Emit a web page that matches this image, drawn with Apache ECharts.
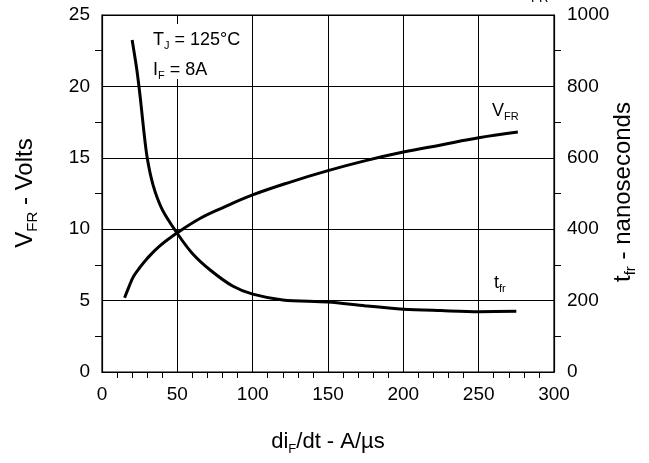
<!DOCTYPE html>
<html>
<head>
<meta charset="utf-8">
<script src="https://cdn.jsdelivr.net/npm/echarts@6/dist/echarts.min.js"></script>
<style>
  html, body { margin: 0; padding: 0; background: #fff; }
  #chart { width: 649px; height: 463px; }
</style>
</head>
<body>
<div id="chart"></div>
<script>
// V_FR curve (left axis, volts)
var vfrX = [15, 18, 21, 25, 30, 38, 50, 65, 80, 100, 125, 150, 175, 200, 225, 250, 276];
var vfrY = [5.2, 6.0, 6.7, 7.3, 7.95, 8.8, 9.75, 10.75, 11.5, 12.4, 13.3, 14.1, 14.8, 15.4, 15.9, 16.4, 16.8];
// t_fr curve (right axis, ns)
var tfrX = [20, 23, 25.5, 27.5, 30, 34, 40, 50, 60, 72, 87, 100, 120, 150, 175, 200, 225, 250, 275];
var tfrY = [930, 850, 765, 685, 600, 522, 455, 388, 332, 285, 240, 218, 202, 196, 185, 176, 172, 169, 170];
var xTicks = [0, 50, 100, 150, 200, 250, 300];

var FONT = "Liberation Sans";
var myChart = echarts.init(document.getElementById("chart"));

function pairs(xs, ys) {
  return xs.map(function (x, i) { return [x, ys[i]]; });
}

var subRich = {
  a: { fontFamily: FONT, fontSize: 22, color: "#000", lineHeight: 28 },
  s: { fontFamily: FONT, fontSize: 13, color: "#000", lineHeight: 12, verticalAlign: "bottom" }
};
var sideRich = {
  a: { fontFamily: FONT, fontSize: 24, color: "#000", lineHeight: 30 },
  s: { fontFamily: FONT, fontSize: 15, color: "#000", lineHeight: 13, verticalAlign: "bottom" }
};
var noteRich = {
  a: { fontFamily: FONT, fontSize: 18, color: "#000", lineHeight: 22 },
  s: { fontFamily: FONT, fontSize: 11, color: "#000", lineHeight: 10, verticalAlign: "bottom" }
};

var option = {
  animation: false,
  grid: {
    left: 102, right: 95, top: 15, bottom: 91,
    show: true, borderColor: "#000", borderWidth: 1.2
  },
  xAxis: {
    type: "value",
    min: 0, max: 300, interval: 50,
    axisLine: { show: true, lineStyle: { color: "#000", width: 1.2 } },
    axisTick: { show: false },
    minorTick: { show: true, splitNumber: 5, length: 6, lineStyle: { color: "#000", width: 1 } },
    axisLabel: {
      margin: 13, fontFamily: FONT, fontSize: 19, color: "#000",
      formatter: function (v) { return xTicks.indexOf(v) >= 0 ? String(v) : ""; }
    },
    splitLine: { show: true, lineStyle: { color: "#000", width: 1 } }
  },
  yAxis: [
    {
      type: "value",
      min: 0, max: 25, interval: 5,
      axisLine: { show: true, lineStyle: { color: "#000", width: 1.2 } },
      axisTick: { show: false },
      minorTick: { show: true, splitNumber: 2, length: 7, lineStyle: { color: "#000", width: 1 } },
      axisLabel: { margin: 12, fontFamily: FONT, fontSize: 19, color: "#000" },
      splitLine: { show: true, lineStyle: { color: "#000", width: 1 } }
    },
    {
      type: "value",
      min: 0, max: 1000, interval: 200,
      position: "right",
      axisLine: { show: true, lineStyle: { color: "#000", width: 1.2 } },
      axisTick: { show: false },
      minorTick: { show: true, splitNumber: 2, length: 7, lineStyle: { color: "#000", width: 1 } },
      axisLabel: {
        margin: 13, fontFamily: FONT, fontSize: 19, color: "#000",
        formatter: function (v) { return String(v); }
      },
      splitLine: { show: false }
    }
  ],
  series: [
    {
      name: "VFR",
      type: "line",
      yAxisIndex: 0,
      data: pairs(vfrX, vfrY),
      smooth: 0.4,
      symbol: "none",
      lineStyle: { color: "#000", width: 3 }
    },
    {
      name: "tfr",
      type: "line",
      yAxisIndex: 1,
      data: pairs(tfrX, tfrY),
      smooth: 0.3,
      symbol: "none",
      lineStyle: { color: "#000", width: 3 }
    }
  ],
  graphic: [
    // white box behind the test conditions, hides the grid line there
    {
      type: "rect", z: 90,
      shape: { x: 151, y: 24, width: 94, height: 55 },
      style: { fill: "#fff" }
    },
    {
      type: "text", x: 153, y: 40, z: 100,
      style: { text: "{a|T}{s|J}{a| = 125°C}", rich: noteRich, verticalAlign: "middle" }
    },
    {
      type: "text", x: 153, y: 70, z: 100,
      style: { text: "{a|I}{s|F}{a| = 8A}", rich: noteRich, verticalAlign: "middle" }
    },
    {
      type: "text", x: 492, y: 111,
      style: { text: "{a|V}{s|FR}", rich: noteRich, verticalAlign: "middle" }
    },
    {
      type: "text", x: 494, y: 283,
      style: { text: "{a|t}{s|fr}", rich: noteRich, verticalAlign: "middle" }
    },
    {
      type: "text", x: 531, y: -8,
      style: { text: "FR", fontFamily: FONT, fontSize: 13, fill: "#000" }
    },
    {
      type: "text", x: 25, y: 193, rotation: Math.PI / 2,
      style: { text: "{a|V}{s|FR}{a| - Volts}", rich: sideRich, align: "center", verticalAlign: "middle" }
    },
    {
      type: "text", x: 623, y: 192, rotation: Math.PI / 2,
      style: { text: "{a|t}{s|fr}{a| - nanoseconds}", rich: sideRich, align: "center", verticalAlign: "middle" }
    },
    {
      type: "text", x: 328, y: 442,
      style: { text: "{a|di}{s|F}{a|/dt - A/µs}", rich: subRich, align: "center", verticalAlign: "middle" }
    }
  ]
};
myChart.setOption(option);
</script>
</body>
</html>
